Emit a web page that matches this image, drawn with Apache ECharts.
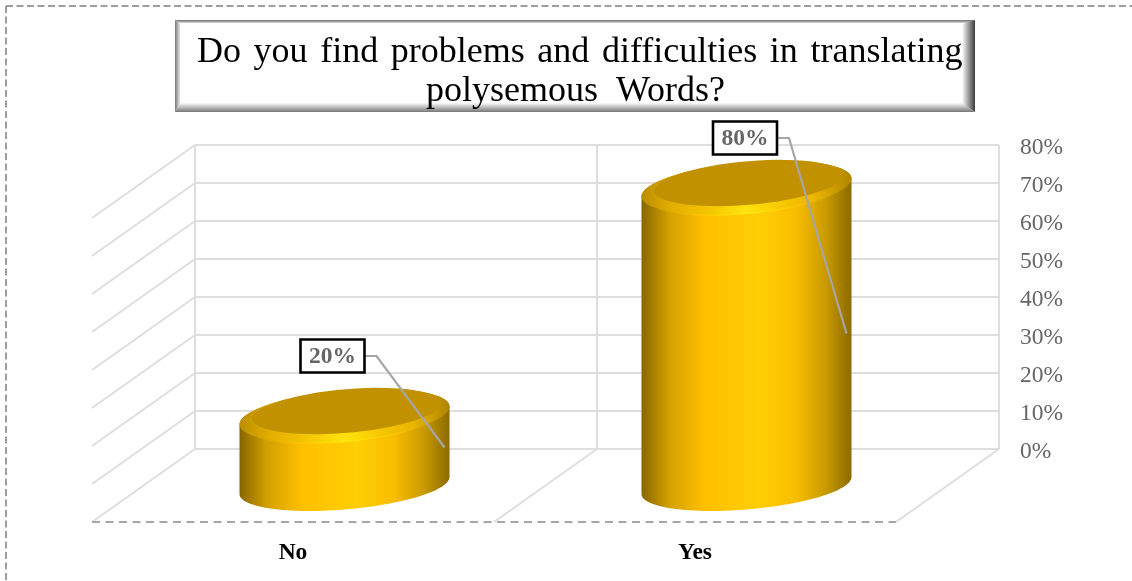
<!DOCTYPE html>
<html><head><meta charset="utf-8">
<style>html,body{margin:0;padding:0;background:#fff}#c{width:1132px;height:581px}</style>
<script src="https://cdn.jsdelivr.net/npm/echarts@6/dist/echarts.min.js"></script>
</head><body><div id="c"></div>
<script>
const categories = ['No', 'Yes'];
const values = [20, 80];
const gridTicks = [0, 10, 20, 30, 40, 50, 60, 70, 80];
const titleWords = ['Do', 'you', 'find', 'problems', 'and', 'difficulties', 'in', 'translating'];
const titleLine2 = 'polysemous  Words?';
const labelNudgeX = [-12, -1.5];
const labelNudgeY = [-17, -7];

const DEPTH_X = 103, DEPTH_Y = 73;
const R = 105, TILT = 8.5, MINOR = 24, SERIF = '"Liberation Serif","Times New Roman",serif';
const sideGrad = {type:'linear',x:0,y:0,x2:1,y2:0,colorStops:[
  {offset:0,color:'#876600'},{offset:.13,color:'#D2A000'},{offset:.3,color:'#FFC000'},
  {offset:.56,color:'#FFCE05'},{offset:.74,color:'#F8BD00'},{offset:.88,color:'#C89900'},{offset:1,color:'#8C6A00'}]};
const rimGrad = {type:'linear',x:0,y:0,x2:1,y2:0,colorStops:[
  {offset:0,color:'#BC8F00'},{offset:.15,color:'#DDA700'},{offset:.5,color:'#F8BE00'},
  {offset:.82,color:'#E4AE00'},{offset:1,color:'#B08600'}]};
const glow = {type:'radial',x:.5,y:.97,r:1.9,colorStops:[
  {offset:0,color:'rgba(255,236,20,.85)'},{offset:.45,color:'rgba(255,215,0,.4)'},{offset:1,color:'rgba(255,200,0,0)'}]};

function ell(cx, cy, t0, t1, sx, sy) {
  const pts = [];
  for (let i = 0; i <= 60; i++) {
    const t = t0 + (t1 - t0) * i / 60, c = Math.cos(t), s = Math.sin(t);
    pts.push([cx + R * (sx||1) * c, cy - TILT * (sy||1) * c + MINOR * (sy||1) * s]);
  }
  return pts;
}

function renderWalls(params, api) {
  const v = api.value(0), p = api.coord([0, v]), g = params.coordSys;
  const line = {stroke:'#DEDEDE',lineWidth:2};
  const children = [{type:'line',shape:{x1:g.x,y1:p[1],x2:g.x-DEPTH_X,y2:p[1]+DEPTH_Y},style:line}];
  if (v === 0) {
    [g.x + g.width/2, g.x + g.width].forEach(x => children.push({type:'line',
      shape:{x1:x,y1:p[1],x2:x-DEPTH_X,y2:p[1]+DEPTH_Y},style:line}));
    children.push({type:'line',shape:{x1:g.x-DEPTH_X,y1:p[1]+DEPTH_Y,x2:g.x+g.width-DEPTH_X,y2:p[1]+DEPTH_Y},
      style:{stroke:'#A6A6A6',lineWidth:1.8,lineDash:[8,5.5]}});
  }
  return {type:'group',children};
}

function renderCyl(params, api) {
  const i = api.value(0), v = api.value(1);
  const top = api.coord([i, v]), base = api.coord([i, 0]);
  const cx = top[0] - DEPTH_X/2, by = base[1] + DEPTH_Y/2, ty = top[1] + DEPTH_Y/2 + 6;
  const SY = 1.05;
  const body = ell(cx, by, 0, Math.PI).concat(ell(cx, ty, Math.PI, 2*Math.PI, 1, SY));
  const rim = ell(cx, ty, 0, 2*Math.PI, 1, SY);
  return {type:'group',children:[
    {type:'polygon',shape:{points:body},style:{fill:sideGrad}},
    {type:'polygon',shape:{points:rim},style:{fill:rimGrad}},
    {type:'polygon',shape:{points:ell(cx, ty+1.5, 0, 2*Math.PI, .98, SY)},style:{fill:glow}},
    {type:'polygon',shape:{points:ell(cx+2,ty-4.5,0,2*Math.PI,.9,.91)},style:{fill:'#C19100'}}
  ]};
}

function renderLabel(params, api) {
  const i = api.value(0), v = api.value(1);
  const top = api.coord([i, v]), mid = api.coord([i, v/2]);
  const bx = top[0] - DEPTH_X/2 + labelNudgeX[i], by = top[1] + labelNudgeY[i];
  const ax = top[0] - DEPTH_X/2 + 100, ay = mid[1] + DEPTH_Y/2;
  return {type:'group',children:[
    {type:'polyline',shape:{points:[[bx+32,by],[bx+44,by],[ax,ay]]},style:{stroke:'#A6A6A6',lineWidth:2.2,fill:null}},
    {type:'rect',shape:{x:bx-32,y:by-16.5,width:64,height:33},style:{fill:'#fff',stroke:'#000',lineWidth:2.6}},
    {type:'text',x:bx,y:by+1,style:{text:api.value(1)+'%',font:'bold 23.5px '+SERIF,fill:'#666',align:'center',verticalAlign:'middle'}}
  ]};
}

const bevel = (pts, x2, y2, from, to) => ({type:'polygon',shape:{points:pts},
  style:{fill:{type:'linear',x:0,y:0,x2:x2,y2:y2,colorStops:[{offset:0,color:from},{offset:1,color:to}]}}});
const L=175,T=20,Rt=975,B=112;

const chart = echarts.init(document.getElementById('c'));
chart.setOption({
  animation:false,
  backgroundColor:'#fff',
  title:[
    {text:titleWords.join('{g| }'),left:197,top:35,padding:0,z:20,
      textStyle:{fontFamily:SERIF,fontSize:36,fontWeight:'normal',color:'#000',rich:{g:{width:12.6,fontSize:36,fontFamily:SERIF}}}},
    {text:titleLine2,left:426,top:74,padding:0,z:20,textStyle:{fontFamily:SERIF,fontSize:36,fontWeight:'normal',color:'#000'}}
  ],
  graphic:{elements:[
    {type:'line',shape:{x1:6,y1:6,x2:1132,y2:6},style:{stroke:'#7F7F7F',lineWidth:1.5,lineDash:[7,3.5]}},
    {type:'line',shape:{x1:6,y1:6,x2:6,y2:581},style:{stroke:'#7F7F7F',lineWidth:1.5,lineDash:[7,3.5]}},
    {type:'rect',shape:{x:L,y:T,width:Rt-L,height:B-T},style:{fill:'#fff'}},
    bevel([[L,T],[Rt,T],[Rt-6,T+3],[L+5,T+3]],0,1,'#6E6E6E','#D8D8D8'),
    bevel([[L,T],[L+5,T+3],[L+5,B-8],[L,B]],1,0,'#777','#E8E8E8'),
    bevel([[Rt,T],[Rt-13,T+4],[Rt-13,B-8],[Rt,B]],1,0,'#FFFFFF','#3A3A3A'),
    bevel([[L,B],[Rt,B],[Rt-13,B-9],[L+5,B-9]],0,1,'#FAFAFA','#777')
  ].map(e=>Object.assign({z:1},e))},
  grid:{left:195,right:133,top:145,bottom:132,show:false},
  xAxis:{type:'category',data:categories,axisLine:{show:false},axisTick:{show:false},
    splitLine:{show:true,lineStyle:{color:'#DEDEDE',width:2}},
    axisLabel:{margin:92,padding:[0,206,0,0],color:'#000',fontFamily:SERIF,fontWeight:'bold',fontSize:23.5}},
  yAxis:{type:'value',min:0,max:80,interval:10,position:'right',axisLine:{show:false},axisTick:{show:false},
    splitLine:{lineStyle:{color:'#DEDEDE',width:2}},
    axisLabel:{formatter:'{value}%',margin:21,verticalAlign:'top',lineHeight:5,color:'#666',fontFamily:SERIF,fontSize:23.5}},
  series:[
    {type:'custom',z:1,silent:true,data:gridTicks.map(v=>[v]),renderItem:renderWalls,encode:{y:0},clip:false},
    {type:'custom',z:2,silent:true,data:values.map((v,i)=>[i,v]),renderItem:renderCyl,encode:{x:0,y:1},clip:false},
    {type:'custom',z:3,silent:true,data:values.map((v,i)=>[i,v]),renderItem:renderLabel,encode:{x:0,y:1},clip:false}
  ]
});
</script></body></html>
